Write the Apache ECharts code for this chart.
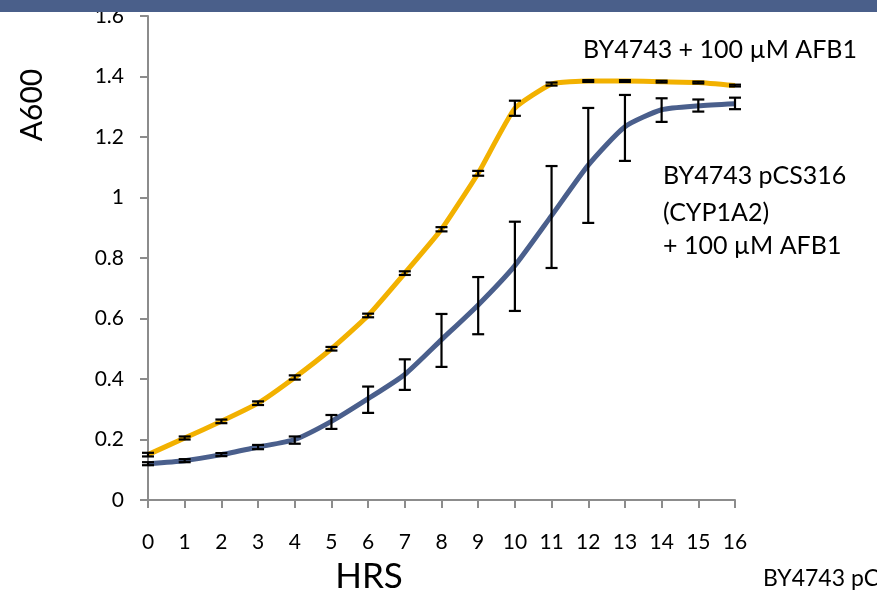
<!DOCTYPE html>
<html><head><meta charset="utf-8">
<script src="https://cdn.jsdelivr.net/npm/echarts@6/dist/echarts.min.js"></script>
<style>html,body{margin:0;padding:0;background:#fff;overflow:hidden}#c{width:877px;height:590px}</style>
</head><body><div id="c"></div>
<script>
const hours = [0,1,2,3,4,5,6,7,8,9,10,11,12,13,14,15,16];
const afb1 = [0.15,0.205,0.26,0.32,0.405,0.50,0.61,0.75,0.895,1.08,1.295,1.375,1.385,1.385,1.383,1.38,1.37];
const afb1Err = [0.006,0.005,0.006,0.006,0.007,0.006,0.006,0.006,0.007,0.008,0.025,0.005,0.003,0.003,0.003,0.003,0.003];
const cyp = [0.12,0.13,0.15,0.175,0.20,0.26,0.335,0.415,0.53,0.645,0.775,0.94,1.107,1.234,1.29,1.303,1.31];
const cypLow  = [0.115,0.125,0.145,0.168,0.186,0.235,0.288,0.364,0.44,0.548,0.625,0.767,0.916,1.121,1.25,1.284,1.292];
const cypHigh = [0.125,0.135,0.155,0.182,0.21,0.281,0.375,0.465,0.615,0.737,0.92,1.104,1.296,1.339,1.328,1.324,1.33];
const yTicks = [0,0.2,0.4,0.6,0.8,1,1.2,1.4,1.6];

const FONT = 'Lato, "Open Sans", sans-serif';
const chart = echarts.init(document.getElementById('c'), null, {renderer:'canvas'});

const afbErrData = hours.map((h,i)=>[h, afb1[i]-afb1Err[i], afb1[i]+afb1Err[i]]);
const cypErrData = hours.map((h,i)=>[h, cypLow[i], cypHigh[i]]);

function renderErr(params, api){
  const x = api.value(0), lo = api.value(1), hi = api.value(2);
  const pLo = api.coord([x, lo]), pHi = api.coord([x, hi]);
  const w = 6;
  const style = {stroke:'#000', lineWidth:2.2};
  return {type:'group', children:[
    {type:'line', shape:{x1:pLo[0], y1:pLo[1], x2:pHi[0], y2:pHi[1]}, style},
    {type:'line', shape:{x1:pLo[0]-w, y1:pLo[1], x2:pLo[0]+w, y2:pLo[1]}, style},
    {type:'line', shape:{x1:pHi[0]-w, y1:pHi[1], x2:pHi[0]+w, y2:pHi[1]}, style}
  ]};
}

chart.setOption({
  animation:false,
  backgroundColor:'#fff',
  grid:{left:148, top:16, right:142, bottom:90, containLabel:false},
  xAxis:{type:'value', min:0, max:16, interval:1,
    axisLine:{show:true, lineStyle:{color:'#8c8c8c', width:2}},
    axisTick:{show:true, inside:false, length:8, lineStyle:{color:'#8c8c8c', width:2}},
    axisLabel:{margin:32, fontSize:21, color:'#000', fontFamily:FONT},
    splitLine:{show:false}},
  yAxis:{type:'value', min:0, max:1.6, interval:0.2,
    axisLine:{show:true, lineStyle:{color:'#8c8c8c', width:2}},
    axisTick:{show:true, length:8, lineStyle:{color:'#8c8c8c', width:2}},
    axisLabel:{margin:24, fontSize:21, color:'#000', fontFamily:FONT,
      formatter:v=>{const t=yTicks.find(k=>Math.abs(k-v)<1e-9); return String(+((t!==undefined?t:v).toFixed(1)));}},
    splitLine:{show:false}},
  series:[
    {type:'line', data:hours.map((h,i)=>[h,afb1[i]]), symbol:'none', smooth:0.15,
     lineStyle:{color:'#F2B100', width:5}, z:2},
    {type:'line', data:hours.map((h,i)=>[h,cyp[i]]), symbol:'none', smooth:0.2,
     lineStyle:{color:'#4A5F8C', width:5}, z:2},
    {type:'custom', data:afbErrData, renderItem:renderErr, z:5, silent:true},
    {type:'custom', data:cypErrData, renderItem:renderErr, z:5, silent:true}
  ],
  graphic:[
    {type:'rect', left:0, top:0, shape:{width:877, height:12}, style:{fill:'#4A5F8A'}, z:10},
    {type:'text', x:32, y:105, rotation:Math.PI/2, style:{text:'A600', font:'30px '+FONT, fill:'#000', textAlign:'center', textVerticalAlign:'middle'}},
    {type:'text', x:369, y:577, style:{text:'HRS', font:'35px '+FONT, fill:'#000', textAlign:'center', textVerticalAlign:'middle'}},
    {type:'text', x:583, y:50, style:{text:'BY4743 + 100 µM AFB1', font:'25px '+FONT, fill:'#000', textAlign:'left', textVerticalAlign:'middle'}},
    {type:'text', x:663, y:176, style:{text:'BY4743 pCS316', font:'25px '+FONT, fill:'#000', textAlign:'left', textVerticalAlign:'middle'}},
    {type:'text', x:663, y:213, style:{text:'(CYP1A2)', font:'25px '+FONT, fill:'#000', textAlign:'left', textVerticalAlign:'middle'}},
    {type:'text', x:663, y:246, style:{text:'+ 100 µM AFB1', font:'25px '+FONT, fill:'#000', textAlign:'left', textVerticalAlign:'middle'}},
    {type:'text', x:763, y:579, style:{text:'BY4743 pCS316', font:'23px '+FONT, fill:'#000', textAlign:'left', textVerticalAlign:'middle'}}
  ]
});
</script></body></html>
